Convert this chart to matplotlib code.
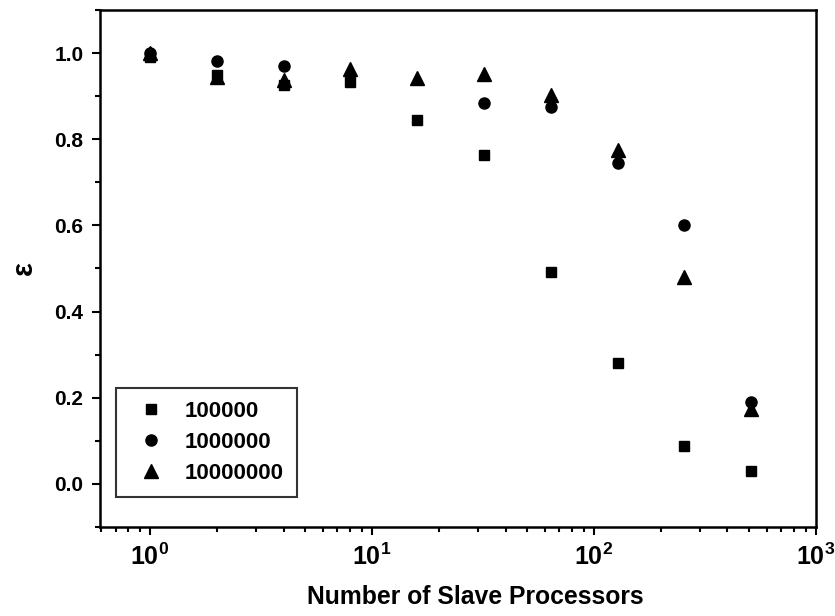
import math
import matplotlib
matplotlib.use("Agg")
import matplotlib.pyplot as plt
from matplotlib.ticker import FixedLocator, MultipleLocator, FuncFormatter, LogLocator

plt.rcParams['font.family'] = ['Liberation Sans', 'DejaVu Sans']
plt.rcParams['font.weight'] = 'bold'
plt.rcParams['mathtext.fontset'] = 'custom'
plt.rcParams['mathtext.rm'] = 'Liberation Sans:bold'
plt.rcParams['mathtext.bf'] = 'Liberation Sans:bold'

nan = float('nan')

# processor counts and efficiency for three problem sizes
procs = [1, 2, 4, 8, 16, 32, 64, 128, 256, 512]
eff_1e5 = [0.99, 0.95, 0.925, 0.933, 0.844, 0.763, 0.491, 0.281, 0.088, 0.029]
eff_1e6 = [1.0, 0.982, 0.97, nan, nan, 0.884, 0.874, 0.744, 0.602, 0.191]
eff_1e7 = [1.0, 0.944, 0.937, 0.963, 0.942, 0.951, 0.902, 0.774, 0.481, 0.174]
labels = ['100000', '1000000', '10000000']

fig = plt.figure(figsize=(8.35, 6.16), dpi=100)
ax = fig.add_axes([0.1198, 0.1445, 0.8572, 0.8393])

ax.plot(procs, eff_1e5, 's', color='black', markersize=7, label=labels[0])
ax.plot(procs, eff_1e6, 'o', color='black', markersize=8, label=labels[1])
ax.plot(procs, eff_1e7, '^', color='black', markersize=10.5, label=labels[2])

ax.set_xscale('log')
ax.set_xlim(0.596, 1000)
ax.set_ylim(-0.1, 1.1)

ax.xaxis.set_major_locator(FixedLocator([1, 10, 100, 1000]))
ax.xaxis.set_minor_locator(LogLocator(base=10, subs=range(2, 10), numticks=20))
ax.xaxis.set_major_formatter(FuncFormatter(lambda v, p: r'$\mathbf{10^{%d}}$' % round(math.log10(v))))
ax.yaxis.set_major_locator(MultipleLocator(0.2))
ax.yaxis.set_minor_locator(MultipleLocator(0.1))
ax.yaxis.set_major_formatter(FuncFormatter(lambda v, p: '%.1f' % v))

ax.tick_params(which='both', direction='out', width=1.5, top=False, right=False)
ax.tick_params(which='major', length=6, labelsize=15, pad=6)
ax.tick_params(axis='x', which='major', labelsize=18, pad=6)
ax.tick_params(which='minor', length=3.5)
for s in ax.spines.values():
    s.set_linewidth(1.8)

ax.set_xlabel('Number of Slave Processors', fontsize=17.8, fontweight='bold', va='center')
ax.xaxis.set_label_coords(0.524, -0.135)
ax.set_ylabel('ε', fontsize=21, fontweight='bold', labelpad=12)

leg = ax.legend(loc='lower left', bbox_to_anchor=(0.022, 0.058), borderaxespad=0,
                fontsize=16, frameon=True, fancybox=False, edgecolor='black',
                borderpad=0.6, handletextpad=0.5, labelspacing=0.44, handlelength=2.0)
leg.get_frame().set_linewidth(1.5)

fig.savefig('out.png', dpi=100)
